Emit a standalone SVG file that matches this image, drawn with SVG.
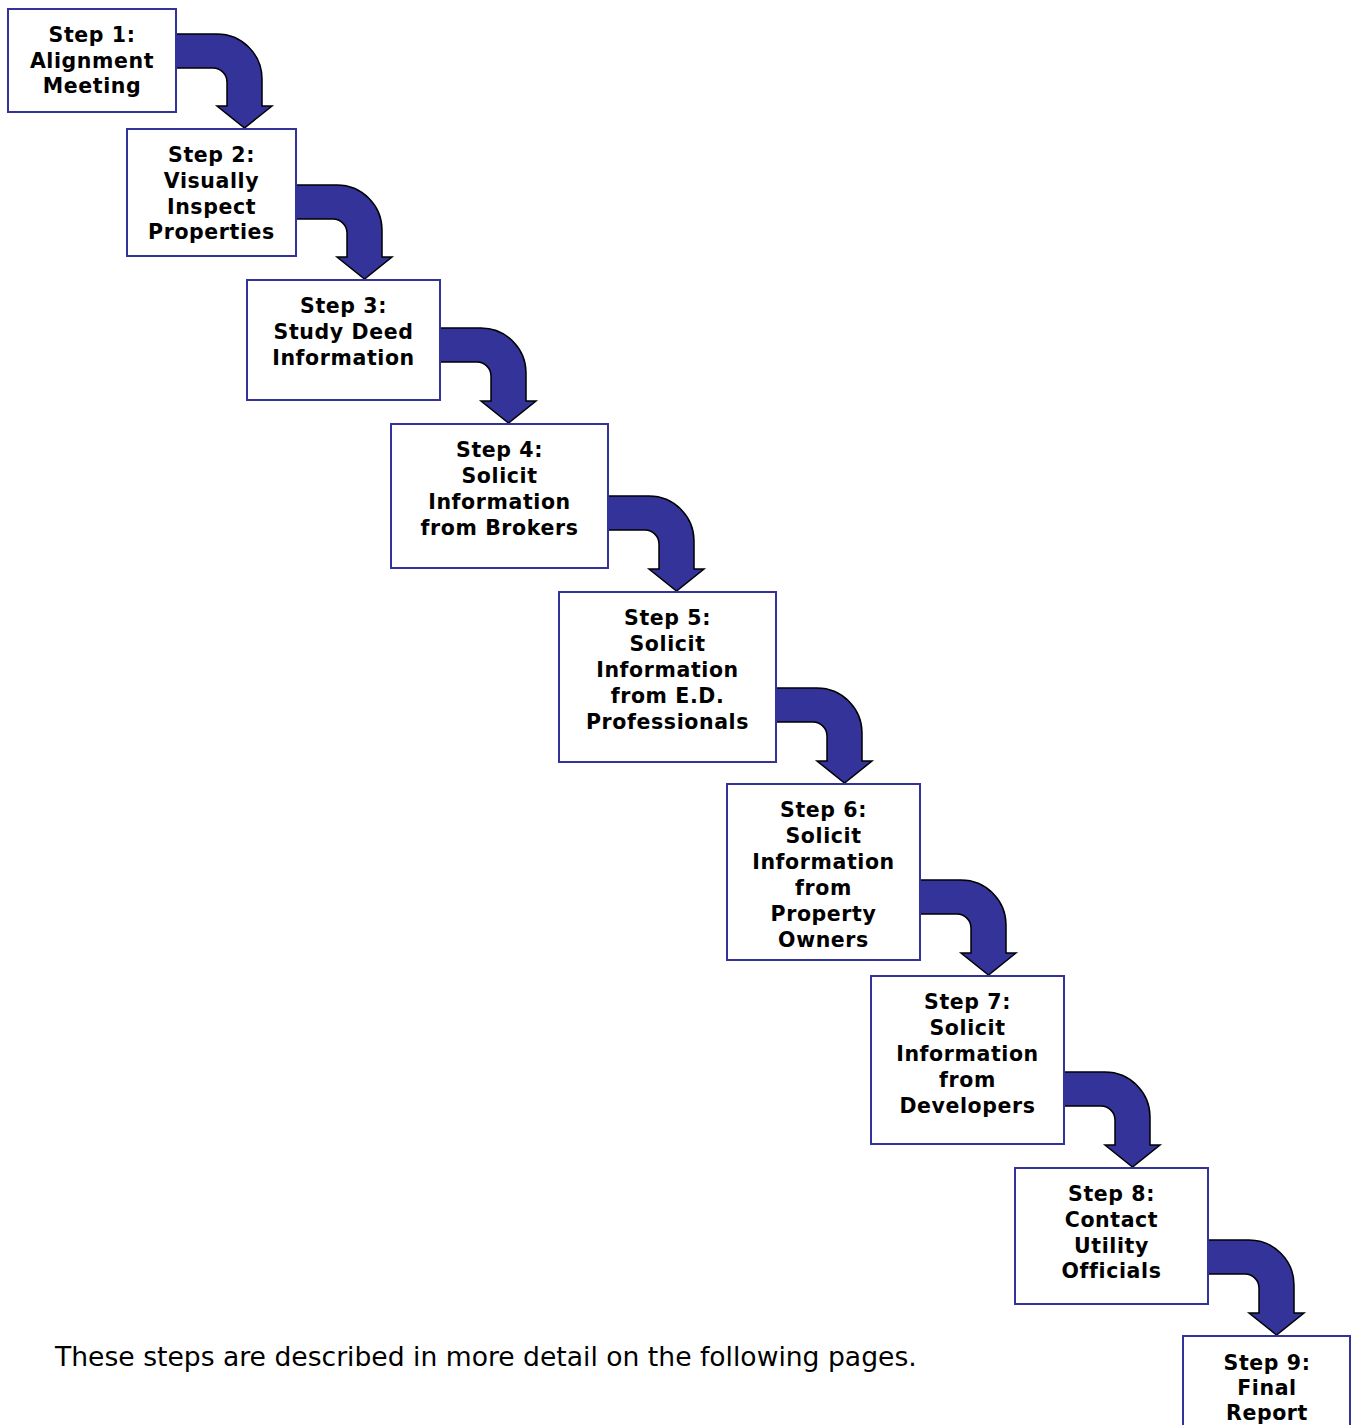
<svg xmlns="http://www.w3.org/2000/svg" width="1351" height="1425" viewBox="0 0 1351 1425">
<style>
.box{fill:#fff;stroke:#333399;stroke-width:2}
.arr{fill:#333399;stroke:#000;stroke-width:1.5;stroke-linejoin:miter}
.lbl{font-family:"DejaVu Sans","Liberation Sans",sans-serif;font-weight:bold;font-size:20.5px;letter-spacing:0.6px;text-anchor:middle;fill:#000}
.note{font-family:"DejaVu Sans","Liberation Sans",sans-serif;font-size:26.6px;fill:#000}
</style>
<rect width="1351" height="1425" fill="#fff"/>
<g id="connectors">
<path class="arr" d="M175,34 H217 A45 45 0 0 1 262,79 V106 H272 L244.5,128 L217,106 H227 V82 A14 14 0 0 0 213,68 H175 Z"/>
<path class="arr" d="M295,185 H337 A45 45 0 0 1 382,230 V257 H392 L364.5,279 L337,257 H347 V233 A14 14 0 0 0 333,219 H295 Z"/>
<path class="arr" d="M439,328 H481 A45 45 0 0 1 526,373 V401 H536 L508.5,423 L481,401 H491 V376 A14 14 0 0 0 477,362 H439 Z"/>
<path class="arr" d="M607,496 H649 A45 45 0 0 1 694,541 V569 H704 L676.5,591 L649,569 H659 V544 A14 14 0 0 0 645,530 H607 Z"/>
<path class="arr" d="M775,688 H817 A45 45 0 0 1 862,733 V761 H872 L844.5,783 L817,761 H827 V736 A14 14 0 0 0 813,722 H775 Z"/>
<path class="arr" d="M919,880 H961 A45 45 0 0 1 1006,925 V953 H1016 L988.5,975 L961,953 H971 V928 A14 14 0 0 0 957,914 H919 Z"/>
<path class="arr" d="M1063,1072 H1105 A45 45 0 0 1 1150,1117 V1145 H1160 L1132.5,1167 L1105,1145 H1115 V1120 A14 14 0 0 0 1101,1106 H1063 Z"/>
<path class="arr" d="M1207,1240 H1249 A45 45 0 0 1 1294,1285 V1313 H1304 L1276.5,1335 L1249,1313 H1259 V1288 A14 14 0 0 0 1245,1274 H1207 Z"/>
</g>
<g id="step1">
<rect class="box" x="8" y="9" width="168" height="103"/>
<text class="lbl" x="92" y="42">Step 1:</text>
<text class="lbl" x="92" y="68">Alignment</text>
<text class="lbl" x="92" y="93">Meeting</text>
</g>
<g id="step2">
<rect class="box" x="127" y="129" width="169" height="127"/>
<text class="lbl" x="211.5" y="162">Step 2:</text>
<text class="lbl" x="211.5" y="188">Visually</text>
<text class="lbl" x="211.5" y="214">Inspect</text>
<text class="lbl" x="211.5" y="239">Properties</text>
</g>
<g id="step3">
<rect class="box" x="247" y="280" width="193" height="120"/>
<text class="lbl" x="343.5" y="313">Step 3:</text>
<text class="lbl" x="343.5" y="339">Study Deed</text>
<text class="lbl" x="343.5" y="365">Information</text>
</g>
<g id="step4">
<rect class="box" x="391" y="424" width="217" height="144"/>
<text class="lbl" x="499.5" y="457">Step 4:</text>
<text class="lbl" x="499.5" y="483">Solicit</text>
<text class="lbl" x="499.5" y="509">Information</text>
<text class="lbl" x="499.5" y="535">from Brokers</text>
</g>
<g id="step5">
<rect class="box" x="559" y="592" width="217" height="170"/>
<text class="lbl" x="667.5" y="625">Step 5:</text>
<text class="lbl" x="667.5" y="651">Solicit</text>
<text class="lbl" x="667.5" y="677">Information</text>
<text class="lbl" x="667.5" y="703">from E.D.</text>
<text class="lbl" x="667.5" y="729">Professionals</text>
</g>
<g id="step6">
<rect class="box" x="727" y="784" width="193" height="176"/>
<text class="lbl" x="823.5" y="817">Step 6:</text>
<text class="lbl" x="823.5" y="843">Solicit</text>
<text class="lbl" x="823.5" y="869">Information</text>
<text class="lbl" x="823.5" y="895">from</text>
<text class="lbl" x="823.5" y="921">Property</text>
<text class="lbl" x="823.5" y="947">Owners</text>
</g>
<g id="step7">
<rect class="box" x="871" y="976" width="193" height="168"/>
<text class="lbl" x="967.5" y="1009">Step 7:</text>
<text class="lbl" x="967.5" y="1035">Solicit</text>
<text class="lbl" x="967.5" y="1061">Information</text>
<text class="lbl" x="967.5" y="1087">from</text>
<text class="lbl" x="967.5" y="1113">Developers</text>
</g>
<g id="step8">
<rect class="box" x="1015" y="1168" width="193" height="136"/>
<text class="lbl" x="1111.5" y="1201">Step 8:</text>
<text class="lbl" x="1111.5" y="1227">Contact</text>
<text class="lbl" x="1111.5" y="1253">Utility</text>
<text class="lbl" x="1111.5" y="1278">Officials</text>
</g>
<g id="step9">
<rect class="box" x="1183" y="1336" width="167" height="120"/>
<text class="lbl" x="1267" y="1370">Step 9:</text>
<text class="lbl" x="1267" y="1395">Final</text>
<text class="lbl" x="1267" y="1420">Report</text>
</g>
<text class="note" x="55" y="1366">These steps are described in more detail on the following pages.</text>
</svg>
